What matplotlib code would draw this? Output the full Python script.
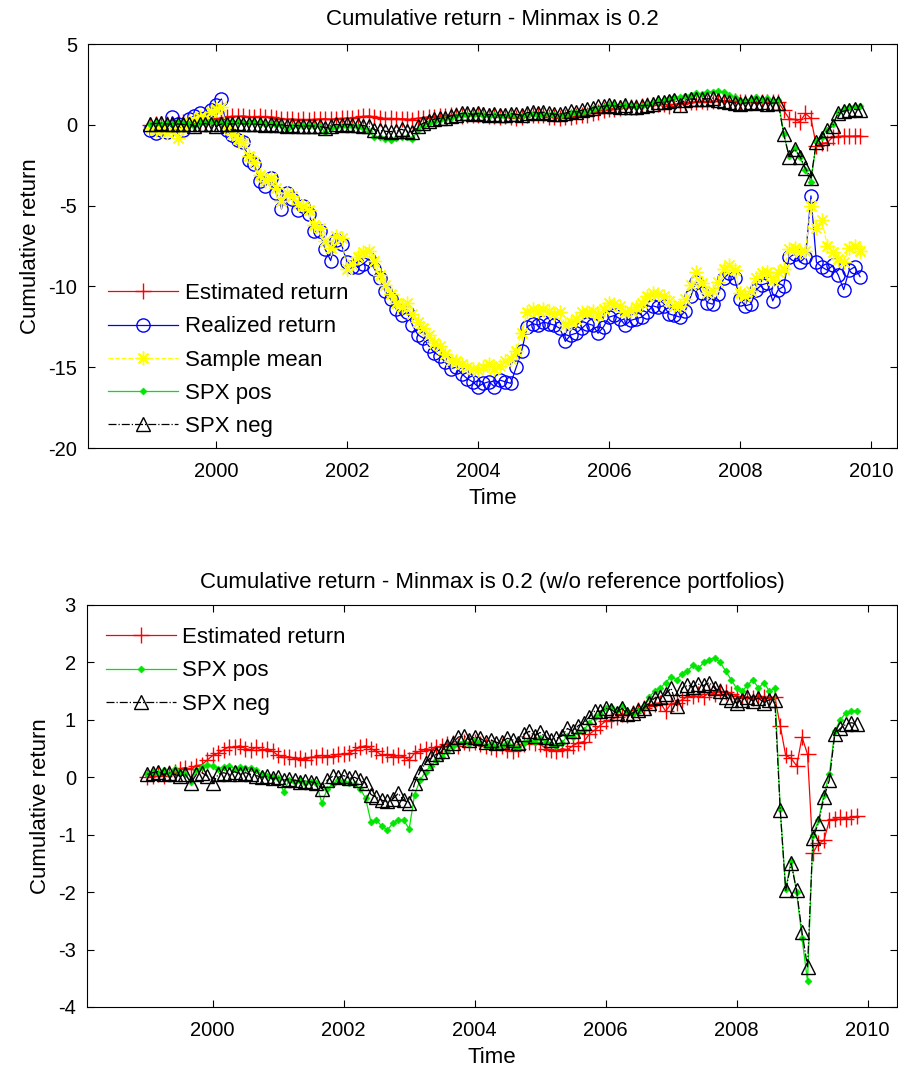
import numpy as np
import matplotlib
matplotlib.use("Agg")
import matplotlib.pyplot as plt

plt.rcParams['font.family'] = ['Liberation Sans', 'DejaVu Sans']
plt.rcParams['axes.unicode_minus'] = False

# ---- data (monthly, Jan 1999 .. Nov 2009) ----
start_year = 1999.0
n_months = 131
dates = start_year + np.arange(n_months) / 12.0

estimated_return = [
    0.00, 0.03, 0.05, 0.02, 0.08, 0.10, 0.15, 0.17, 0.14, 0.20, 0.22, 0.30,
    0.38, 0.42, 0.48, 0.53, 0.52, 0.55, 0.50, 0.48, 0.52, 0.47, 0.50, 0.45,
    0.38, 0.35, 0.36, 0.32, 0.34, 0.30, 0.35, 0.36, 0.38, 0.35, 0.37, 0.40,
    0.40, 0.42, 0.48, 0.52, 0.55, 0.50, 0.45, 0.38, 0.40, 0.35, 0.38, 0.36,
    0.30, 0.42, 0.45, 0.50, 0.48, 0.52, 0.55, 0.58, 0.60, 0.55, 0.62, 0.60,
    0.62, 0.58, 0.55, 0.52, 0.50, 0.55, 0.48, 0.45, 0.50, 0.58, 0.62, 0.60,
    0.58, 0.50, 0.48, 0.45, 0.50, 0.48, 0.55, 0.60, 0.62, 0.75, 0.82, 0.90,
    0.98, 1.00, 1.05, 1.10, 1.08, 1.12, 1.18, 1.20, 1.25, 1.28, 1.30, 1.15,
    1.28, 1.30, 1.35, 1.40, 1.42, 1.45, 1.40, 1.48, 1.45, 1.50, 1.48, 1.45,
    1.42, 1.38, 1.40, 1.38, 1.42, 1.40, 1.38, 1.40, 0.90, 0.38, 0.33, 0.20,
    0.70, 0.40, -1.32, -1.15, -1.10, -0.75, -0.72, -0.70, -0.72, -0.70, -0.68,
]

realized_return = [
    -0.35, -0.5, -0.3, -0.45, 0.5, 0.05, -0.35, 0.35, 0.55, 0.7, 0.4, 0.9,
    1.2, 1.6, -0.35, -0.65, -0.95, -1.05, -2.2, -2.45, -3.45, -3.8, -3.3, -4.2,
    -5.2, -4.2, -4.6, -5.3, -5.0, -5.5, -6.6, -6.6, -7.7, -8.4, -7.1, -7.4,
    -8.5, -8.8, -8.8, -8.6, -8.3, -8.9, -9.5, -10.3, -10.8, -11.4, -11.8, -11.6,
    -12.4, -13.0, -13.2, -13.7, -14.1, -14.3, -14.7, -15.1, -15.0, -15.4, -15.7, -15.9,
    -16.2, -16.0, -15.9, -16.2, -15.8, -15.9, -16.0, -15.0, -14.0, -12.5, -12.3, -12.4,
    -12.2, -12.3, -12.4, -12.6, -13.4, -13.0, -12.9, -12.6, -12.3, -12.4, -12.9, -12.5,
    -11.9, -11.8, -12.0, -12.4, -12.1, -12.0, -11.9, -11.6, -11.2, -11.3, -11.2, -11.7,
    -11.8, -11.9, -11.5, -10.6, -9.7, -10.4, -11.0, -11.1, -10.5, -9.5, -9.2, -9.5,
    -10.8, -11.2, -11.1, -10.2, -9.9, -9.8, -10.9, -10.2, -10.0, -8.2, -8.0, -8.5,
    -8.2, -4.4, -8.5, -8.8, -9.0, -8.7, -9.3, -10.2, -9.0, -8.8, -9.4,
]

sample_mean = [
    -0.2, -0.35, -0.3, -0.5, -0.3, -0.8, -0.2, 0.2, 0.3, 0.5, 0.4, 0.8,
    1.0, 1.1, -0.2, -0.6, -0.9, -1.1, -1.9, -2.3, -3.1, -3.5, -3.3, -3.9,
    -4.7, -4.2, -4.4, -4.9, -5.0, -5.3, -6.2, -6.4, -7.2, -7.6, -6.9, -7.0,
    -8.9, -8.6, -8.2, -7.9, -7.8, -8.4, -9.3, -9.9, -10.5, -11.0, -11.3, -11.0,
    -11.7, -12.2, -12.6, -13.0, -13.5, -13.7, -14.2, -14.6, -14.6, -14.8, -15.0, -15.1,
    -15.2, -15.0, -14.8, -15.1, -14.9, -14.6, -14.5, -14.0, -12.9, -11.6, -11.4, -11.5,
    -11.4, -11.5, -11.7, -11.6, -12.4, -12.2, -12.0, -11.6, -11.6, -11.5, -11.8, -11.4,
    -11.0, -11.1, -11.2, -11.6, -11.5, -11.3, -11.0, -10.6, -10.4, -10.5, -10.6, -10.9,
    -11.2, -11.2, -10.8, -9.9, -9.1, -9.8, -10.4, -10.3, -9.7, -8.9, -8.7, -9.0,
    -10.4, -10.6, -10.3, -9.5, -9.2, -9.1, -9.6, -9.1, -8.9, -7.7, -7.6, -7.9,
    -7.8, -5.0, -6.4, -5.9, -7.5, -7.9, -8.3, -8.5, -7.6, -7.5, -7.8,
]

spx_pos = [
    0.05, 0.10, 0.08, 0.12, 0.05, 0.15, 0.10, 0.05, -0.08, 0.12, 0.18, 0.22,
    0.20, 0.15, 0.18, 0.20, 0.15, 0.18, 0.17, 0.16, 0.12, 0.05, 0.03, 0.00,
    -0.02, -0.25, -0.05, -0.08, -0.05, -0.10, -0.08, -0.10, -0.45, -0.20, -0.12, -0.05,
    -0.08, -0.10, -0.12, -0.20, -0.36, -0.78, -0.75, -0.85, -0.92, -0.80, -0.75, -0.75,
    -0.90, -0.30, -0.05, 0.10, 0.20, 0.30, 0.35, 0.45, 0.55, 0.60, 0.62, 0.58,
    0.65, 0.60, 0.55, 0.58, 0.52, 0.55, 0.60, 0.55, 0.52, 0.60, 0.65, 0.62,
    0.68, 0.62, 0.58, 0.55, 0.60, 0.72, 0.70, 0.78, 0.82, 0.95, 1.05, 1.10,
    1.20, 1.22, 1.18, 1.25, 1.15, 1.10, 1.15, 1.25, 1.40, 1.50, 1.55, 1.65,
    1.75, 1.70, 1.80, 1.85, 1.95, 1.90, 2.00, 2.05, 2.08, 2.00, 1.85, 1.70,
    1.55, 1.50, 1.60, 1.70, 1.55, 1.65, 1.50, 1.55, -0.55, -1.95, -1.45, -2.00,
    -2.80, -3.55, -1.00, -0.75, -0.30, 0.05, 0.80, 1.00, 1.12, 1.15, 1.16,
]

spx_neg = [
    0.05, 0.08, 0.10, 0.05, 0.08, 0.05, 0.02, 0.05, -0.10, 0.05, 0.08, 0.02,
    -0.10, 0.05, 0.08, 0.05, 0.10, 0.05, 0.08, 0.05, 0.03, 0.00, 0.02, -0.02,
    0.00, -0.05, -0.03, -0.05, -0.08, -0.06, -0.08, -0.10, -0.20, -0.05, 0.02, 0.00,
    0.03, -0.02, 0.00, -0.05, -0.10, -0.30, -0.35, -0.40, -0.42, -0.38, -0.28, -0.40,
    -0.45, -0.10, 0.10, 0.25, 0.35, 0.40, 0.45, 0.55, 0.60, 0.70, 0.72, 0.65,
    0.70, 0.68, 0.62, 0.65, 0.60, 0.62, 0.68, 0.65, 0.60, 0.75, 0.80, 0.72,
    0.78, 0.70, 0.65, 0.68, 0.72, 0.85, 0.80, 0.90, 0.95, 1.05, 1.15, 1.15,
    1.20, 1.18, 1.12, 1.20, 1.10, 1.12, 1.18, 1.20, 1.30, 1.38, 1.40, 1.45,
    1.55, 1.25, 1.55, 1.60, 1.58, 1.62, 1.60, 1.65, 1.55, 1.50, 1.40, 1.35,
    1.30, 1.35, 1.40, 1.32, 1.38, 1.30, 1.35, 1.35, -0.57, -1.97, -1.50, -1.97,
    -2.70, -3.30, -1.05, -0.80, -0.35, -0.05, 0.75, 0.85, 0.92, 0.95, 0.93,
]

labels = ["Estimated return", "Realized return", "Sample mean", "SPX pos", "SPX neg"]
title_top = "Cumulative return - Minmax is 0.2"
title_bottom = "Cumulative return - Minmax is 0.2 (w/o reference portfolios)"
xticks = [2000, 2002, 2004, 2006, 2008, 2010]
yticks_top = [-20, -15, -10, -5, 0, 5]
yticks_bottom = [-4, -3, -2, -1, 0, 1, 2, 3]

FS = 16      # titles, labels, legend
TFS = 14.5   # tick labels
LW = 0.9

styles = {
    "Estimated return": dict(color=(1, 0, 0), ls='-', marker='+', ms=11, mew=1.0),
    "Realized return": dict(color=(0, 0, 1), ls='-', marker='o', ms=9.5, mew=1.0, mfc='none'),
    "Sample mean": dict(color=(1, 1, 0), ls='--', marker=(8, 2, 0), ms=10, mew=1.0),
    "SPX pos": dict(color=(0, 0.9, 0), ls='-', marker='D', ms=3.5, mew=0.5),
    "SPX neg": dict(color=(0, 0, 0), ls='-.', marker='^', ms=10.5, mew=1.0, mfc='none'),
}

W, H = 898, 1072
fig = plt.figure(figsize=(W / 100, H / 100), dpi=100)
ax1 = fig.add_axes([88 / W, 1 - 448 / H, (897 - 88) / W, (448 - 44) / H])
ax2 = fig.add_axes([87 / W, 1 - 1007 / H, (897 - 87) / W, (1007 - 605) / H])

series_top = [estimated_return, realized_return, sample_mean, spx_pos, spx_neg]
for lab, vals in zip(labels, series_top):
    ax1.plot(dates, vals, lw=LW, label=lab, **styles[lab])

bottom_labels = ["Estimated return", "SPX pos", "SPX neg"]
series_bottom = [estimated_return, spx_pos, spx_neg]
for lab, vals in zip(bottom_labels, series_bottom):
    ax2.plot(dates, vals, lw=LW, label=lab, **styles[lab])


def style_axes(ax, xlim, ylim, yticks, title, title_pad, legloc, anchor):
    ax.set_xlim(*xlim)
    ax.set_ylim(*ylim)
    ax.set_xticks(xticks)
    ax.set_yticks(yticks)
    ax.tick_params(direction='in', length=5, width=0.8, top=True, right=True,
                   labelsize=TFS, pad=8, colors='black')
    ax.tick_params(axis='x', pad=10)
    for sp in ax.spines.values():
        sp.set_linewidth(0.8)
    ax.set_title(title, fontsize=FS, pad=title_pad)
    ax.set_xlabel("Time", fontsize=FS, labelpad=5)
    ax.set_ylabel("Cumulative return", fontsize=FS, labelpad=5)
    leg = ax.legend(loc=legloc, bbox_to_anchor=anchor, frameon=False, fontsize=FS,
                    borderpad=0, borderaxespad=0, handlelength=3.15,
                    handletextpad=0.3, labelspacing=0.55)
    return leg


style_axes(ax1, (1998.046, 2010.397), (-20, 5), yticks_top, title_top, 14,
           'lower left', (0.025, 0.027))
style_axes(ax2, (1998.08, 2010.45), (-4, 3), yticks_bottom, title_bottom, 12,
           'upper left', (0.023, 0.945))

fig.savefig("out.png", dpi=100)
